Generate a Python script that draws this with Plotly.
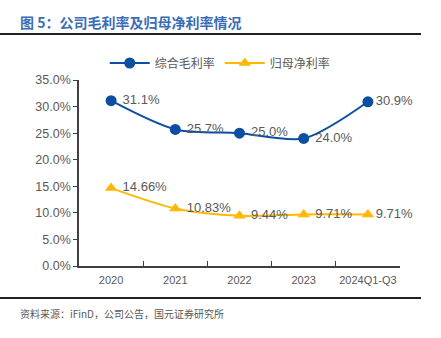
import plotly.graph_objects as go

categories = ["2020", "2021", "2022", "2023", "2024Q1-Q3"]
gross_margin = [0.311, 0.257, 0.250, 0.240, 0.309]
gross_labels = ["31.1%", "25.7%", "25.0%", "24.0%", "30.9%"]
net_margin = [0.1466, 0.1083, 0.0944, 0.0971, 0.0971]
net_labels = ["14.66%", "10.83%", "9.44%", "9.71%", "9.71%"]

BLUE = "#0b4ea2"
YELLOW = "#ffb905"
GRAY = "#595959"
FONT = "Noto Sans CJK SC"


def pad(labels):
    return [(" " + t) if i < len(labels) - 1 else t for i, t in enumerate(labels)]


fig = go.Figure()
fig.add_trace(go.Scatter(
    x=categories, y=gross_margin, name="综合毛利率",
    mode="lines+markers+text", text=pad(gross_labels), textposition="middle right",
    line=dict(color=BLUE, width=2, shape="spline", smoothing=0.8),
    marker=dict(symbol="circle", size=11, color=BLUE),
    textfont=dict(family="Liberation Sans, Arial", size=13, color=GRAY),
    cliponaxis=False,
))
fig.add_trace(go.Scatter(
    x=categories, y=net_margin, name="归母净利率",
    mode="lines+markers+text", text=pad(net_labels), textposition="middle right",
    line=dict(color=YELLOW, width=2, shape="spline", smoothing=0.8),
    marker=dict(symbol="triangle-up", size=11, color=YELLOW),
    textfont=dict(family="Liberation Sans, Arial", size=13, color=GRAY),
    cliponaxis=False,
))

fig.update_layout(
    width=441, height=338,
    margin=dict(l=79, r=41, t=80, b=72),
    paper_bgcolor="white", plot_bgcolor="white",
    font=dict(family=FONT, color=GRAY),
    showlegend=True,
    legend=dict(orientation="h", x=0.44, xanchor="center", y=(266 - 63) / 186, yanchor="middle",
                font=dict(family=FONT, size=12, color=GRAY), bgcolor="rgba(0,0,0,0)",
                itemwidth=40, tracegroupgap=0),
    xaxis=dict(
        type="category", range=[-0.5, 4.5], autorange=False,
        showgrid=False, showline=True, linecolor="#404040", linewidth=1.5,
        ticks="inside", ticklen=5, tickcolor="#404040", tickson="boundaries",
        tickangle=0, ticklabelstandoff=3,
        tickfont=dict(family="Liberation Sans, Arial", size=11, color=GRAY),
    ),
    yaxis=dict(
        range=[0, 0.35], dtick=0.05, tickformat=".1%", showgrid=False,
        showline=True, linecolor="#404040", linewidth=1.5,
        ticks="outside", ticklen=4, tickcolor="#404040",
        tickfont=dict(family="Liberation Sans, Arial", size=12.5, color=GRAY),
        zeroline=False,
    ),
    annotations=[
        dict(text="<b>图 5：公司毛利率及归母净利率情况</b>", xref="paper", yref="paper",
             x=-0.19, y=(266 - 22) / 186, xanchor="left", yanchor="middle",
             showarrow=False, font=dict(family=FONT, size=14, color="#3a6db5")),
        dict(text="资料来源：iFinD，公司公告，国元证券研究所", xref="paper", yref="paper",
             x=-0.19, y=(266 - 313) / 186, xanchor="left", yanchor="middle",
             showarrow=False, font=dict(family=FONT, size=10, color=GRAY)),
    ],
    shapes=[
        dict(type="line", xref="paper", yref="paper", x0=-79 / 321, x1=(421 - 79) / 321,
             y0=(266 - 34) / 186, y1=(266 - 34) / 186, line=dict(color="#222222", width=2)),
        dict(type="line", xref="paper", yref="paper", x0=-79 / 321, x1=(421 - 79) / 321,
             y0=(266 - 298) / 186, y1=(266 - 298) / 186, line=dict(color="#222222", width=2)),
    ],
)

fig.write_html("out.html")
